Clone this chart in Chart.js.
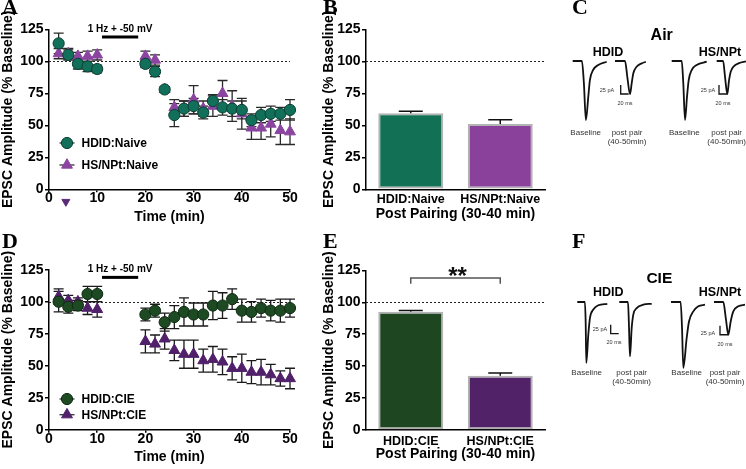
<!DOCTYPE html>
<html><head><meta charset="utf-8">
<script src="https://cdn.jsdelivr.net/npm/chart.js@4.4.1/dist/chart.umd.min.js"></script>
<style>
html,body{margin:0;padding:0;background:#fff;}
#root{position:relative;width:746px;height:469px;overflow:hidden;background:#fff;}
canvas{position:absolute;}
.lbl{position:absolute;white-space:nowrap;line-height:1;font-family:"Liberation Sans",Arial,sans-serif;}
.let{position:absolute;font-family:"Liberation Serif","Times New Roman",serif;font-weight:bold;font-size:22px;line-height:1;color:#000;}
</style></head><body><div id="root"></div>
<script>
// ---------- DATA ----------
const timeMin = [2,4,6,8,10,20,22,24,26,28,30,32,34,36,38,40,42,44,46,48,50];

const naiveHDID    = [114,105,98,96,94,98,92,78,58,63,65,60,69,64,63,62,54,58,59,59,62];
const naiveHDIDsem = [8,4,4,4,3,3,4,2,9,6,6,5,5,6,6,7,5,6,6,5,8];
const naiveHSNPt    = [106,106,104,104,105,104,101,78,64,63,70,63,65,75,65,59,48,48,51,46,45];
const naiveHSNPtSem = [4,4,3,4,4,4,4,2,6,6,11,6,8,10,12,12,9,9,10,11,10];

const cieHDID    = [100,96,97,106,106,90,93,84,88,92,90,90,97,97,102,93,92,95,93,93,95];
const cieHDIDsem = [8,5,4,6,6,5,5,7,9,11,9,9,11,10,8,9,8,7,8,9,7];
const cieHSNPt    = [104,101,100,95,94,69,67,71,62,59,59,54,55,53,48,48,45,45,43,40,40];
const cieHSNPtSem = [6,4,3,5,6,9,7,8,8,11,11,9,10,10,9,11,9,10,8,6,8];

const naiveCats = ['HDID:Naive','HS/NPt:Naive'];
const naiveBars = [59.5, 51];
const naiveBarSem = [1.5, 3.4];
const cieCats = ['HDID:CIE','HS/NPt:CIE'];
const cieBars = [92.7, 42.4];
const cieBarSem = [0.9, 2.3];

const yTicks = [0,25,50,75,100,125];
const xTicks = [0,10,20,30,40,50];
const baselinePct = 100;
const stimFrom = 11, stimTo = 18.5, stimLabel = '1 Hz + -50 mV';
const arrowTime = 3.5;

// representative EPSC traces: [ms, pA]
const airHDIDbase = [[0,0],[23,0],[28,-62],[33,-164],[39,-99],[43,-53],[51,-25],[64,-11],[85,-2]];
const airHDIDpost = [[0,0],[25,0],[31,-46],[37.5,-92],[41.7,-62],[45.8,-34],[54,-16],[67,-6.5],[77,-2]];
const airHSbase   = [[0,0],[25,0],[29,-62],[33.3,-164],[38.3,-99],[42.5,-53],[50,-25],[62.5,-11],[87.5,-2]];
const airHSpost   = [[0,0],[16,0],[21,-46],[26.5,-92],[30.8,-54],[35,-30],[43.3,-14],[55.8,-6],[73,-1]];
const cieHDIDbase = [[0,0],[19,0],[21,-60],[22.5,-169],[27.5,-91],[31.7,-44],[40,-21],[52.5,-9],[75,-5]];
const cieHDIDpost = [[0,0],[21.7,0],[24,-60],[26.7,-151],[31,-72],[35,-35],[43.5,-17],[60,-7.5],[81,-5]];
const cieHSbase   = [[0,0],[24,0],[27.5,-70],[30.8,-183],[39.2,-100],[45,-54],[55.8,-26],[68.3,-12],[85,-7.5]];
const cieHSpost   = [[0,0],[23.3,0],[29.5,-45],[35.8,-91],[41.7,-54],[48.3,-26],[60.8,-12],[77.5,-7.5]];
const scaleBarPA = 25, scaleBarMs = 20;

// ---------- STYLE / LAYOUT ----------
const FAM = '"Liberation Sans", Arial, sans-serif';
const C = {
  nGreen:'#12705a', nGreenEdge:'#0a3f31', nPurple:'#8b45a0',
  cGreen:'#1d4a22', cGreenEdge:'#0f2a12', cPurple:'#50206a',
  bGreen:'#127055', bPurple:'#8a419b', eGreen:'#1d4621', ePurple:'#512268'
};
const root = document.getElementById('root');
function addCanvas(x,y,w,h){
  const c=document.createElement('canvas'); c.width=w; c.height=h;
  c.style.left=x+'px'; c.style.top=y+'px'; c.style.width=w+'px'; c.style.height=h+'px';
  root.appendChild(c); return c;
}
function fnt(size, weight, lh){ const f={family:FAM,size:size,weight:weight||'bold'}; if(lh) f.lineHeight=lh; return f; }

function marker(ctx, style, x, y, r, down){
  ctx.beginPath();
  if(style==='circle'){ ctx.arc(x,y,r,0,Math.PI*2); }
  else {
    const a0 = down ? Math.PI/2 : -Math.PI/2;
    for(let k=0;k<3;k++){ const a=a0+k*2*Math.PI/3; const px=x+r*Math.cos(a), py=y+r*Math.sin(a); if(k) ctx.lineTo(px,py); else ctx.moveTo(px,py); }
    ctx.closePath();
  }
  ctx.fill(); ctx.stroke();
}

function drawErrors(chart, o){
  const ctx=chart.ctx, y=chart.scales.y;
  ctx.save();
  ctx.strokeStyle=o.errColor||'#222'; ctx.lineWidth=o.errWidth||1.3;
  chart.data.datasets.forEach((ds,i)=>{
    if(!ds.sem) return;
    const meta=chart.getDatasetMeta(i);
    meta.data.forEach((el,j)=>{
      const d=ds.data[j]; const v=(typeof d==='object')?d.y:d; const s=ds.sem[j];
      const px=el.x, yt=y.getPixelForValue(v+s), yb=y.getPixelForValue(o.upOnly?v:v-s), cw=o.capWidth/2;
      ctx.beginPath();
      ctx.moveTo(px,yb); ctx.lineTo(px,yt);
      ctx.moveTo(px-cw,yt); ctx.lineTo(px+cw,yt);
      if(!o.upOnly){ ctx.moveTo(px-cw,yb); ctx.lineTo(px+cw,yb); }
      ctx.stroke();
    });
  });
  ctx.restore();
}

const extras = {
  id:'extras',
  beforeDatasetsDraw(chart, args, o){
    const ctx=chart.ctx, y=chart.scales.y, ca=chart.chartArea;
    if(o.refLine!=null){
      ctx.save(); ctx.beginPath(); ctx.setLineDash([2,2]); ctx.strokeStyle='#222'; ctx.lineWidth=1;
      const py=Math.round(y.getPixelForValue(o.refLine))+0.5;
      ctx.moveTo(ca.left,py); ctx.lineTo(ca.right,py); ctx.stroke(); ctx.restore();
    }
    if(o.errors && o.errLayer==='before') drawErrors(chart,o);
  },
  afterDatasetsDraw(chart, args, o){
    const ctx=chart.ctx, x=chart.scales.x, y=chart.scales.y;
    if(o.errors && o.errLayer==='after') drawErrors(chart,o);
    ctx.save();
    if(o.stim){
      const s=o.stim, x1=x.getPixelForValue(s.from), x2=x.getPixelForValue(s.to), yb=y.getPixelForValue(s.barAt);
      ctx.fillStyle='#000'; ctx.fillRect(x1,yb-1.5,x2-x1,3);
      ctx.font='bold 10px '+FAM; ctx.textAlign='center'; ctx.textBaseline='middle';
      ctx.fillText(s.text,(x1+x2)/2,y.getPixelForValue(s.textAt));
    }
    if(o.legend){
      o.legend.forEach(it=>{
        const ds=chart.data.datasets[it.ds];
        ctx.strokeStyle='#333'; ctx.lineWidth=1.3; ctx.beginPath(); ctx.moveTo(it.x-7.5,it.y); ctx.lineTo(it.x+7.5,it.y); ctx.stroke();
        ctx.fillStyle=ds.pointBackgroundColor; ctx.strokeStyle=ds.pointBorderColor; ctx.lineWidth=1;
        marker(ctx, ds.pointStyle, it.x, it.y, ds.pointRadius, false);
        ctx.fillStyle='#000'; ctx.font='bold 12px '+FAM; ctx.textAlign='left'; ctx.textBaseline='middle';
        ctx.fillText(ds.label, it.x+14.5, it.y+0.5);
      });
    }
    if(o.arrow){
      ctx.fillStyle=o.arrow.color; ctx.strokeStyle=o.arrow.color; ctx.lineWidth=1;
      marker(ctx,'triangle',x.getPixelForValue(o.arrow.at),o.arrow.y,4.6,true);
    }
    if(o.bracket){
      const b=o.bracket, x1=x.getPixelForValue(b.from), x2=x.getPixelForValue(b.to), yb=y.getPixelForValue(b.at), yl=y.getPixelForValue(b.legTo);
      ctx.strokeStyle='#555'; ctx.lineWidth=1.5; ctx.beginPath();
      ctx.moveTo(x1,yl); ctx.lineTo(x1,yb); ctx.lineTo(x2,yb); ctx.lineTo(x2,yl); ctx.stroke();
      ctx.fillStyle='#111'; ctx.font='bold 24px '+FAM; ctx.textAlign='center'; ctx.textBaseline='alphabetic';
      ctx.fillText(b.text,(x1+x2)/2+2,yb+6);
    }
    ctx.restore();
  }
};

function series(label, vals, sem, color, edge, style, r){
  return {label:label, data:timeMin.map((t,i)=>({x:t,y:vals[i]})), sem:sem,
    pointStyle:style, pointRadius:r, pointBackgroundColor:color, pointBorderColor:edge, pointBorderWidth:1,
    backgroundColor:color, borderColor:edge, showLine:false, clip:false};
}

function yScale(width, titlePadTop){
  return {min:0,max:125, afterFit:s=>{s.width=width;},
    afterBuildTicks:s=>{s.ticks=yTicks.map(v=>({value:v}));},
    ticks:{color:'#000',font:fnt(14),padding:1.5},
    grid:{drawOnChartArea:false,tickLength:4,color:'#000',lineWidth:1.5},
    border:{color:'#000',width:1.5},
    title:{display:true,text:'EPSC Amplitude (% Baseline)',color:'#000',font:fnt(14),padding:{top:titlePadTop,bottom:0}}};
}

function timeChart(box, padTop, xH, titlePB, dsets, ex){
  const c=addCanvas(box[0],box[1],box[2],box[3]);
  return new Chart(c,{type:'scatter',data:{datasets:dsets},
    options:{responsive:false,animation:false,devicePixelRatio:1,
      layout:{padding:{left:0,top:padTop,right:10,bottom:0}},
      scales:{
        x:{type:'linear',min:0,max:50,afterFit:s=>{s.height=xH;},
          afterBuildTicks:s=>{s.ticks=xTicks.map(v=>({value:v}));},
          ticks:{color:'#000',font:fnt(14,'bold',0.8),padding:0.5,maxRotation:0},
          grid:{drawOnChartArea:false,tickLength:3,color:'#000',lineWidth:1.5},
          border:{color:'#000',width:1.5},
          title:{display:true,text:'Time (min)',color:'#000',font:fnt(14),padding:{top:0,bottom:titlePB}}},
        y:yScale(49,0)
      },
      plugins:{legend:{display:false},tooltip:{enabled:false},extras:ex}},
    plugins:[extras]});
}

function barChart(box, padTop, xH, tickPad, titlePB, labels, vals, sem, colors, bracket){
  const c=addCanvas(box[0],box[1],box[2],box[3]);
  const ex={refLine:baselinePct,errors:true,errLayer:'after',upOnly:true,capWidth:24,errColor:'#111',errWidth:1.5};
  if(bracket) ex.bracket=bracket;
  return new Chart(c,{type:'bar',
    data:{labels:labels,datasets:[{data:vals,sem:sem,backgroundColor:colors,borderColor:'#b3b3b3',borderWidth:2,borderSkipped:false,barPercentage:0.726,categoryPercentage:1}]},
    options:{responsive:false,animation:false,devicePixelRatio:1,
      layout:{padding:{left:0,top:padTop,right:5,bottom:0}},
      scales:{
        x:{afterFit:s=>{s.height=xH;},
          ticks:{color:'#000',font:fnt(12.5),padding:tickPad,maxRotation:0},
          grid:{display:false,drawTicks:false},
          border:{display:true,color:'#000',width:1.5},
          title:{display:true,text:'Post Pairing (30-40 min)',color:'#000',font:fnt(14),padding:{top:0,bottom:titlePB}}},
        y:yScale(66,20.6)
      },
      plugins:{legend:{display:false},tooltip:{enabled:false},extras:ex}},
    plugins:[extras]});
}

// Panel A
timeChart([0,0,300,235],29.3,45.7,9.6,[
  series('HDID:Naive',naiveHDID,naiveHDIDsem,C.nGreen,C.nGreenEdge,'circle',5.6),
  series('HS/NPt:Naive',naiveHSNPt,naiveHSNPtSem,C.nPurple,C.nPurple,'triangle',6.3)
],{refLine:baselinePct,errors:true,errLayer:'before',capWidth:10,errColor:'#2a2a2a',errWidth:1.3,
  stim:{from:stimFrom,to:stimTo,barAt:119,textAt:125,text:stimLabel},
  legend:[{ds:0,x:67,y:143},{ds:1,x:67,y:165}],
  arrow:{at:arrowTime,y:201.7,color:'#5a2a78'}});

// Panel D
timeChart([0,235,300,234],34.7,39.3,3.6,[
  series('HDID:CIE',cieHDID,cieHDIDsem,C.cGreen,C.cGreenEdge,'circle',5.6),
  series('HS/NPt:CIE',cieHSNPt,cieHSNPtSem,C.cPurple,C.cPurple,'triangle',6.3)
],{refLine:baselinePct,errors:true,errLayer:'before',capWidth:10,errColor:'#1a1a1a',errWidth:1.3,
  stim:{from:stimFrom,to:stimTo,barAt:119,textAt:125,text:stimLabel},
  legend:[{ds:0,x:67,y:164},{ds:1,x:67,y:179.7}]});

// Panel B
barChart([300,0,250,235],29.3,45.7,3,12,naiveCats,naiveBars,naiveBarSem,[C.bGreen,C.bPurple]);
// Panel E
barChart([300,235,250,234],35.4,39,4,6,cieCats,cieBars,cieBarSem,[C.eGreen,C.ePurple],
  {from:0,to:1,at:119,legTo:114.5,text:'**'});

// Trace panels C / F
function traceChart(box, traces, bars){
  const c=addCanvas(box[0],box[1],box[2],box[3]);
  const ds=traces.map(t=>({data:t.shape.map(p=>({x:p[0]+t.at,y:p[1]})),showLine:true,borderColor:'#111',borderWidth:1.8,
    pointRadius:0,cubicInterpolationMode:'monotone',fill:false,clip:false}));
  bars.forEach(b=>ds.push({data:[{x:b[0],y:b[1]+scaleBarPA},{x:b[0],y:b[1]},{x:b[0]+scaleBarMs,y:b[1]}],
    showLine:true,borderColor:'#111',borderWidth:1.3,pointRadius:0,tension:0,clip:false,borderJoinStyle:'miter'}));
  return new Chart(c,{type:'scatter',data:{datasets:ds},
    options:{responsive:false,animation:false,devicePixelRatio:1,layout:{padding:0},
      scales:{x:{display:false,min:0,max:465},y:{display:false,min:-247.2,max:58.33}},
      plugins:{legend:{display:false},tooltip:{enabled:false}}}});
}
traceChart([560,40,186,110],
  [{shape:airHDIDbase,at:31.75},{shape:airHDIDpost,at:137.5},{shape:airHSbase,at:279.25},{shape:airHSpost,at:391.75}],
  [[151.75,-91.7],[397.5,-91.7]]);
traceChart([560,281,186,110],
  [{shape:cieHDIDbase,at:43.25},{shape:cieHDIDpost,at:148.25},{shape:cieHSbase,at:277.5},{shape:cieHSpost,at:385}],
  [[126.75,-88],[400,-91]]);

// text labels
function label(text,x,y,size,weight,color){
  const d=document.createElement('div'); d.className='lbl'; d.textContent=text;
  const k = size<7 ? 2 : 1;
  d.style.fontSize=(size*k)+'px'; d.style.fontWeight=weight||'normal'; d.style.color=color||'#000';
  d.style.left=x+'px'; d.style.top=y+'px';
  d.style.transformOrigin='0 0';
  d.style.transform = k>1 ? 'scale(0.5) translate(-50%,-50%)' : 'translate(-50%,-50%)';
  root.appendChild(d);
}
[['Air',661.7,35,16,'bold'],['HDID',608,52,12.5,'bold'],['HS/NPt',720,52,12.5,'bold'],
 ['25 pA',607,90,5.5],['20 ms',624.5,102.7,5.5],['25 pA',708,90,5.5],['20 ms',723,102.7,5.5],
 ['Baseline',585.7,132.7,8],['post pair',627,132.7,8],['(40-50min)',627,141.7,8],
 ['Baseline',684.3,132.7,8],['post pair',726.7,132.7,8],['(40-50min)',726.7,141.7,8],
 ['CIE',659.3,278.3,15.5,'bold'],['HDID',608.3,292.3,12.5,'bold'],['HS/NPt',720,292.3,12.5,'bold'],
 ['25 pA',600,329.3,5.5],['20 ms',614,342.3,5.5],['25 pA',708.3,333.3,5.5],['20 ms',725,344,5.5],
 ['Baseline',586.7,373.3,8],['post pair',631.7,373.3,8],['(40-50min)',631.7,381.7,8],
 ['Baseline',686.7,373.3,8],['post pair',725,373.3,8],['(40-50min)',725,381.7,8]
].forEach(a=>label(a[0],a[1],a[2],a[3],a[4],a[4]?'#000':'#333'));

[['A',2,-3.8],['B',323,-3.8],['C',572,-3.8],['D',2,230.2],['E',323,230.2],['F',572,230.2]].forEach(a=>{
  const d=document.createElement('div'); d.className='let'; d.textContent=a[0];
  d.style.left=a[1]+'px'; d.style.top=a[2]+'px'; root.appendChild(d);
});
</script></body></html>
